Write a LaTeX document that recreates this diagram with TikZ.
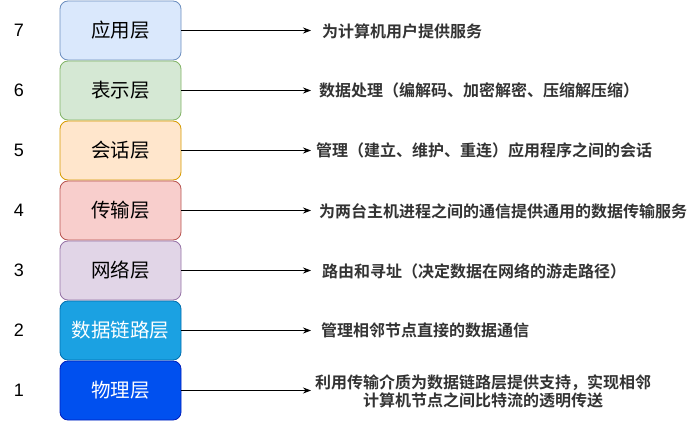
\documentclass[tikz,border=0pt]{standalone}
\usepackage{fontspec}
\setmainfont{Liberation Sans}
\newfontfamily\cjk{Noto Sans CJK SC}
\newfontfamily\cjkb{Noto Sans CJK SC Bold}
\usetikzlibrary{arrows.meta}
\definecolor{f7}{HTML}{DAE8FC}\definecolor{s7}{HTML}{6C8EBF}
\definecolor{f6}{HTML}{D5E8D4}\definecolor{s6}{HTML}{82B366}
\definecolor{f5}{HTML}{FFE6CC}\definecolor{s5}{HTML}{D79B00}
\definecolor{f4}{HTML}{F8CECC}\definecolor{s4}{HTML}{B85450}
\definecolor{f3}{HTML}{E1D5E7}\definecolor{s3}{HTML}{9673A6}
\definecolor{f2}{HTML}{1BA1E2}\definecolor{s2}{HTML}{006EAF}
\definecolor{f1}{HTML}{0050EF}\definecolor{s1}{HTML}{001DBC}
\definecolor{desc}{HTML}{333333}
\tikzset{
  layer/.style={rectangle, rounded corners=8pt, minimum width=121pt, minimum height=59pt,
    line width=0.8pt, inner sep=0pt, font=\cjk\fontsize{19.5}{22}\selectfont},
  num/.style={font=\fontsize{18}{20}\selectfont, inner sep=0pt},
  desctext/.style={font=\cjkb\fontsize{16}{18}\selectfont, text=desc, inner sep=0pt, anchor=west},
  conn/.style={-{Stealth[length=8pt,width=6pt]}, line width=0.8pt, black},
}
\begin{document}
\begin{tikzpicture}[x=1pt,y=-1pt]
\useasboundingbox (0,0) rectangle (694,425);
\node[layer, fill=f7, draw=s7] (l7) at (120.5,30.5) {应用层};
\node[layer, fill=f6, draw=s6] (l6) at (120.5,90.5) {表示层};
\node[layer, fill=f5, draw=s5] (l5) at (120.5,150.5) {会话层};
\node[layer, fill=f4, draw=s4] (l4) at (120.5,210.5) {传输层};
\node[layer, fill=f3, draw=s3] (l3) at (120.5,270.5) {网络层};
\node[layer, fill=f2, draw=s2, text=white] (l2) at (120.5,330.5) {数据链路层};
\node[layer, fill=f1, draw=s1, text=white] (l1) at (120.5,390.5) {物理层};
\node[num] (n7) at (19,30.5) {7};
\node[num] (n6) at (19,90.5) {6};
\node[num] (n5) at (19,150.5) {5};
\node[num] (n4) at (19,210.5) {4};
\node[num] (n3) at (19,270.5) {3};
\node[num] (n2) at (19,330.5) {2};
\node[num] (n1) at (19,390.5) {1};
\coordinate (e7) at (311,30.5);
\coordinate (e6) at (311,90.5);
\coordinate (e5) at (311,150.5);
\coordinate (e4) at (311,210.5);
\coordinate (e3) at (311,270.5);
\coordinate (e2) at (311,330.5);
\coordinate (e1) at (311,390.5);
\foreach \i in {1,...,7} { \draw[conn] (l\i.east) -- (e\i); }
\node[desctext] (d7) at (322,31) {为计算机用户提供服务};
\node[desctext] (d6) at (319,90) {数据处理（编解码、加密解密、压缩解压缩）};
\node[desctext] (d5) at (316,150) {管理（建立、维护、重连）应用程序之间的会话};
\node[desctext] (d4) at (319,211) {为两台主机进程之间的通信提供通用的数据传输服务};
\node[desctext] (d3) at (322,271) {路由和寻址（决定数据在网络的游走路径）};
\node[desctext] (d2) at (321,330) {管理相邻节点直接的数据通信};
\node[desctext, anchor=center, align=center] (d1) at (483,391) {利用传输介质为数据链路层提供支持，实现相邻\\计算机节点之间比特流的透明传送};
\end{tikzpicture}
\end{document}
